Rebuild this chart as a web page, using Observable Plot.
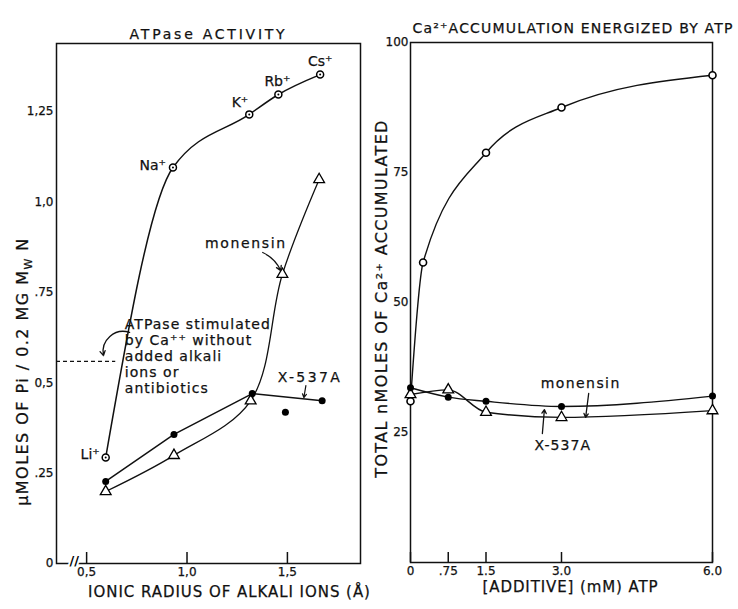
<!DOCTYPE html>
<html><head><meta charset="utf-8">
<script src="https://cdn.jsdelivr.net/npm/d3@7"></script>
<script src="https://cdn.jsdelivr.net/npm/@observablehq/plot@0.6"></script>
<style>
body{margin:0;background:#fff;}
#wrap{position:relative;width:738px;height:609px;background:#fff;}
#wrap svg{position:absolute;top:0;overflow:visible;background:transparent;}
</style></head><body><div id="wrap"></div>
<script>
// ---------- Left panel: ATPase activity ----------
const ions = ["Li⁺", "Na⁺", "K⁺", "Rb⁺", "Cs⁺"];
const ionRadius = [0.595, 0.93, 1.31, 1.455, 1.663];
const atpaseIons = [0.293, 1.095, 1.242, 1.297, 1.352];
const monensinRadius = [0.595, 0.935, 1.317, 1.475, 1.658];
const atpaseMonensin = [0.199, 0.299, 0.45, 0.80, 1.062];
const x537Radius = [0.595, 0.935, 1.325, 1.673];
const atpaseX537A = [0.227, 0.357, 0.47, 0.45];
const x537OutlierRadius = [1.49];
const atpaseX537AOutlier = [0.418];
const atpaseCaOnly = 0.559;
const leftYTicks = [0, 0.25, 0.5, 0.75, 1.0, 1.25];
const leftYTickLabels = ["0", ".25", "0,5", ".75", "1,0", "1,25"];
const leftXTicks = [0.5, 1.0, 1.5];
const leftXTickLabels = ["0,5", "1,0", "1,5"];

// ---------- Right panel: Ca2+ accumulation ----------
const atpDose = [0, 0.25, 1.5, 3.0, 6.0];
const caControl = [31, 57.7, 78.8, 87.5, 93.7];
const additiveDose = [0, 0.75, 1.5, 3.0, 6.0];
const caX537A = [33.6, 31.8, 31.0, 30.0, 32.0];
const caMonensin = [32.3, 33.2, 28.9, 27.9, 29.2];
const rightYTicks = [25, 50, 75, 100];
const rightYTickLabels = ["25", "50", "75", "100"];
const rightXTicks = [0, 0.75, 1.5, 3.0, 6.0];
const rightXTickLabels = ["0", ".75", "1.5", "3.0", "6.0"];

const FONT = "'DejaVu Sans', sans-serif";
const zip = (xs, ys) => xs.map((x, i) => ({x, y: ys[i]}));

const ionPts = ions.map((name, i) => ({name, x: ionRadius[i], y: atpaseIons[i]}));
const monPts = zip(monensinRadius, atpaseMonensin);
const xPts = zip(x537Radius, atpaseX537A);
const xOut = zip(x537OutlierRadius, atpaseX537AOutlier);
const ionLabelStyle = [
  {textAnchor: "end", dx: -6, dy: -3},
  {textAnchor: "end", dx: -7, dy: -2},
  {textAnchor: "end", dx: -1, dy: -12},
  {textAnchor: "middle", dx: -1, dy: -13},
  {textAnchor: "middle", dx: 0, dy: -13}
];

const leftYLabel = "μMOLES OF Pi / 0.2 MG MW N";
const annot = "ATPase stimulated\nby Ca⁺⁺ without\nadded alkali\nions or\nantibiotics";

const left = Plot.plot({
  width: 372, height: 609,
  marginLeft: 56, marginRight: 12, marginTop: 43, marginBottom: 46,
  x: {domain: [0.35, 1.864]},
  y: {domain: [0, 1.438]},
  style: {fontFamily: FONT, background: "transparent", color: "#111"},
  marks: [
    Plot.frame({strokeWidth: 1.5}),
    Plot.axisY({ticks: leftYTicks, tickSize: 0, tickPadding: 3, fontSize: 12,
      tickFormat: d => leftYTickLabels[leftYTicks.indexOf(d)], label: null}),
    Plot.axisX({ticks: leftXTicks, tickSize: 0, tickPadding: 4, fontSize: 12,
      tickFormat: d => leftXTickLabels[leftXTicks.indexOf(d)], label: null}),
    Plot.ruleX(leftXTicks, {insetTop: 509, strokeWidth: 1.5}),
    Plot.text(["//"], {frameAnchor: "bottom-left", dx: 13, dy: 1, fontSize: 13, fontWeight: "bold", stroke: "white", strokeWidth: 4, fill: "black"}),
    // dashed Ca-only baseline
    Plot.ruleY([atpaseCaOnly], {x1: 0.35, x2: 0.645, strokeDasharray: "4,3", strokeWidth: 1.3}),
    Plot.arrow([{x1: 0.714, y1: 0.639, x2: 0.584, y2: 0.575}], {x1: "x1", y1: "y1", x2: "x2", y2: "y2", bend: -60, headLength: 6, strokeWidth: 1.3}),
    Plot.text([annot], {x: 0.69, y: 0.68, textAnchor: "start", lineAnchor: "top", lineHeight: 1.15, fontSize: 14}),
    // curves
    Plot.line(ionPts, {x: "x", y: "y", curve: "monotone-x", strokeWidth: 1.5}),
    Plot.line(monPts, {x: "x", y: "y", curve: "catmull-rom", strokeWidth: 1.3}),
    Plot.line(xPts, {x: "x", y: "y", strokeWidth: 1.5}),
    Plot.dot(ionPts, {x: "x", y: "y", r: 3.5, fill: "white", stroke: "black", strokeWidth: 1.5}),
    Plot.dot(ionPts, {x: "x", y: "y", r: 1, fill: "black"}),
    Plot.dot(monPts, {x: "x", y: "y", symbol: "triangle", r: 4, fill: "white", stroke: "black", strokeWidth: 1.3}),
    Plot.dot(xPts, {x: "x", y: "y", r: 3.5, fill: "black"}),
    Plot.dot(xOut, {x: "x", y: "y", r: 3.5, fill: "black"}),
    ...ionPts.map((p, i) => Plot.text([p], {x: "x", y: "y", text: "name", fontSize: 14, ...ionLabelStyle[i]})),
    Plot.text(["monensin"], {x: 1.293, y: 0.885, fontSize: 14}),
    Plot.arrow([{x1: 1.377, y1: 0.86, x2: 1.467, y2: 0.81}], {x1: "x1", y1: "y1", x2: "x2", y2: "y2", bend: 20, headLength: 6, strokeWidth: 1.3}),
    Plot.text(["X-537A"], {x: 1.612, y: 0.514, fontSize: 14}),
    Plot.arrow([{x1: 1.592, y1: 0.492, x2: 1.582, y2: 0.459}], {x1: "x1", y1: "y1", x2: "x2", y2: "y2", headLength: 5, strokeWidth: 1.2}),
    // titles and axis labels
    Plot.text(["ATPase ACTIVITY"], {frameAnchor: "top", dy: -14, fontSize: 14}),
    Plot.text([leftYLabel], {frameAnchor: "left", textAnchor: "middle", dx: -34, dy: 68, rotate: -90, fontSize: 16}),
    Plot.text(["IONIC RADIUS OF ALKALI IONS (Å)"], {frameAnchor: "bottom", textAnchor: "middle", dx: 21, dy: 33, fontSize: 15})
  ]
});
left.style.left = "0px";

const ctrlPts = zip(atpDose, caControl);
const caXPts = zip(additiveDose, caX537A);
const caMonPts = zip(additiveDose, caMonensin);

const right = Plot.plot({
  width: 372, height: 609,
  marginLeft: 44, marginRight: 26, marginTop: 42, marginBottom: 47,
  x: {domain: [0, 6]},
  y: {domain: [0, 100]},
  style: {fontFamily: FONT, background: "transparent", color: "#111"},
  marks: [
    Plot.frame({strokeWidth: 1.5}),
    Plot.axisY({ticks: rightYTicks, tickSize: 0, tickPadding: 2, fontSize: 12,
      tickFormat: d => rightYTickLabels[rightYTicks.indexOf(d)], label: null}),
    Plot.axisX({ticks: rightXTicks, tickSize: 0, tickPadding: 4, fontSize: 12,
      tickFormat: d => rightXTickLabels[rightXTicks.indexOf(d)], label: null}),
    Plot.ruleX(rightXTicks, {insetTop: 510, strokeWidth: 1.5}),
    Plot.line(ctrlPts, {x: "x", y: "y", curve: "monotone-x", strokeWidth: 1.4}),
    Plot.line(caXPts, {x: "x", y: "y", curve: "monotone-x", strokeWidth: 1.4}),
    Plot.line(caMonPts, {x: "x", y: "y", curve: "monotone-x", strokeWidth: 1.4}),
    Plot.dot(ctrlPts, {x: "x", y: "y", r: 3.5, fill: "white", stroke: "black", strokeWidth: 1.6}),
    Plot.dot(caMonPts, {x: "x", y: "y", symbol: "triangle", r: 4, fill: "white", stroke: "black", strokeWidth: 1.3}),
    Plot.dot(caXPts, {x: "x", y: "y", r: 3.5, fill: "black"}),
    Plot.text(["monensin "], {x: 3.44, y: 34.4, fontSize: 14}),
    Plot.arrow([{x1: 3.54, y1: 32.5, x2: 3.48, y2: 27.9}], {x1: "x1", y1: "y1", x2: "x2", y2: "y2", headLength: 5, strokeWidth: 1.3}),
    Plot.text(["X-537A "], {x: 3.08, y: 22.5, fontSize: 14}),
    Plot.arrow([{x1: 2.62, y1: 24.8, x2: 2.66, y2: 29.4}], {x1: "x1", y1: "y1", x2: "x2", y2: "y2", headLength: 5, strokeWidth: 1.3}),
    Plot.text(["Ca²⁺ACCUMULATION ENERGIZED BY ATP"], {frameAnchor: "top-left", textAnchor: "start", dx: 2, dy: -19, fontSize: 14}),
    Plot.text(["TOTAL nMOLES OF Ca²⁺ ACCUMULATED"], {frameAnchor: "left", textAnchor: "middle", dx: -29, dy: -4, rotate: -90, fontSize: 16}),
    Plot.text(["[ADDITIVE] (mM) ATP"], {frameAnchor: "bottom", textAnchor: "middle", dx: 9, dy: 29, fontSize: 15})
  ]
});
right.style.left = "366px";

const wrap = document.getElementById("wrap");
wrap.appendChild(left);
wrap.appendChild(right);

// subscript W in the left y label
d3.select(left).selectAll("text").filter(function() { return this.textContent === leftYLabel; })
  .each(function() {
    const t = d3.select(this);
    t.text(null);
    t.append("tspan").text("μMOLES OF Pi / 0.2 MG M");
    t.append("tspan").attr("dy", 4).attr("font-size", 11).text("W");
    t.append("tspan").attr("dy", -4).text(" N");
  });

// spread letters so each label spans the same length as in the original figure
const spreadTargets = [
  [left, "ATPase ACTIVITY", 155],
  [left, "μMOLES OF Pi", 267],
  [left, "IONIC RADIUS", 282],
  [left, "ATPase stimulated", 145],
  [left, "monensin", 80],
  [left, "X-537A", 62],
  [right, "Ca²⁺ACCUMULATION", 320],
  [right, "TOTAL nMOLES", 357],
  [right, "[ADDITIVE]", 175],
  [right, "monensin", 83],
  [right, "X-537A", 60]
];
for (const [svg, start, target] of spreadTargets) {
  d3.select(svg).selectAll("text").filter(function() { return this.textContent.startsWith(start); })
    .each(function() {
      const first = this.querySelector("tspan");
      const isLines = first && this.textContent !== leftYLabel && this.querySelectorAll("tspan").length > 1 && start === "ATPase stimulated";
      const node = isLines ? first : this;
      const n = (isLines ? first.textContent : this.textContent).trimEnd().length;
      const natural = node.getComputedTextLength();
      const ls = Math.max(0, (target - natural) / Math.max(1, n - 1));
      this.setAttribute("letter-spacing", ls.toFixed(2));
    });
}
// slightly heavier text, like the printed figure
d3.selectAll("#wrap svg text").filter(function() { return this.textContent !== "//"; })
  .attr("stroke", "#111").attr("stroke-width", 0.25);
</script></body></html>
